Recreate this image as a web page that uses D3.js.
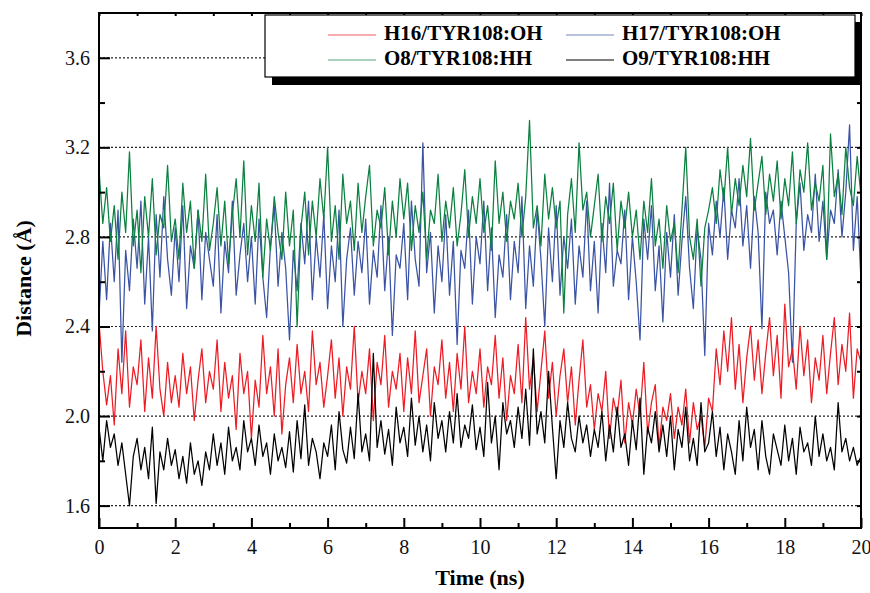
<!DOCTYPE html>
<html>
<head>
<meta charset="utf-8">
<script src="https://cdn.jsdelivr.net/npm/d3@7"></script>
<style>
  html, body { margin: 0; padding: 0; background: #fff; overflow: hidden; }
  svg { display: block; }
  text { font-family: "Liberation Serif", "Times New Roman", serif; }
</style>
</head>
<body>
<div id="viz"></div>
<script>
// sampled every 0.1 ns
const time = d3.range(201).map(i => i / 10);

const h16 = [
  2.42, 2.20, 2.05, 2.18, 1.96, 2.30, 2.10, 2.38, 2.04, 2.22,
  2.14, 2.34, 2.02, 2.26, 2.08, 2.40, 2.12, 2.00, 2.24, 2.06,
  2.18, 2.04, 2.28, 2.10, 2.22, 1.98, 2.16, 2.30, 2.06, 2.20,
  2.12, 2.34, 2.02, 2.24, 2.08, 2.18, 1.94, 2.28, 2.10, 2.20,
  1.90, 2.16, 2.04, 2.36, 2.10, 2.22, 2.00, 2.30, 1.92, 2.14,
  2.26, 2.06, 2.32, 2.10, 2.20, 2.02, 2.38, 2.14, 2.24, 2.04,
  2.18, 2.34, 2.08, 2.26, 2.00, 2.22, 2.12, 2.40, 2.06, 2.20,
  2.10, 2.30, 1.98, 2.24, 2.14, 2.36, 2.04, 2.20, 2.12, 2.28,
  2.02, 2.26, 2.10, 2.38, 2.06, 2.18, 2.30, 2.00, 2.22, 2.14,
  2.34, 2.08, 2.24, 2.02, 2.28, 2.12, 2.40, 2.06, 2.20, 2.10,
  2.30, 2.04, 2.22, 2.14, 2.36, 2.08, 2.26, 1.98, 2.18, 2.10,
  2.32, 2.06, 2.44, 2.12, 2.26, 2.02, 2.20, 2.38, 2.08, 2.24,
  2.00, 2.18, 2.30, 2.06, 2.22, 1.96, 2.16, 2.34, 2.04, 2.14,
  1.94, 2.10, 2.02, 2.20, 1.90, 2.08, 2.00, 2.16, 1.88, 2.06,
  1.96, 2.12, 2.00, 2.24, 1.92, 2.06, 2.14, 1.86, 2.04, 1.98,
  2.10, 1.90, 2.04, 1.96, 2.12, 1.88, 2.06, 1.94, 2.00, 1.86,
  2.08, 2.02, 2.30, 2.14, 2.38, 2.20, 2.44, 2.12, 2.32, 2.06,
  2.26, 2.40, 2.16, 2.34, 2.10, 2.28, 2.44, 2.18, 2.36, 2.08,
  2.50, 2.22, 2.30, 2.12, 2.40, 2.18, 2.34, 2.06, 2.26, 2.16,
  2.36, 2.10, 2.28, 2.44, 2.14, 2.32, 2.20, 2.46, 2.08, 2.30,
  2.24
];

const h17 = [
  2.45, 2.78, 2.52, 2.86, 2.60, 2.92, 2.24, 2.74, 2.56, 2.88,
  2.66, 2.96, 2.50, 2.80, 2.38, 2.90, 2.62, 2.98, 2.70, 2.54,
  2.84, 2.60, 2.94, 2.48, 2.76, 2.66, 2.92, 2.52, 2.82, 2.70,
  2.58, 2.90, 2.46, 2.78, 2.64, 2.96, 2.54, 2.72, 2.86, 2.60,
  2.80, 2.50, 2.88, 2.62, 2.44, 2.76, 2.94, 2.58, 2.82, 2.66,
  2.34, 2.74, 2.56, 2.86, 2.68, 2.96, 2.52, 2.80, 2.62, 2.90,
  2.48, 2.76, 2.60, 2.92, 2.40, 2.70, 2.84, 2.54, 2.78, 2.64,
  2.88, 2.50, 2.74, 2.62, 2.94, 2.56, 2.80, 2.36, 2.72, 2.66,
  2.86, 2.52, 2.96, 2.70, 2.58, 3.22, 2.64, 2.82, 2.46, 2.76,
  2.60, 2.90, 2.54, 2.78, 2.32, 2.74, 2.66, 2.92, 2.50, 2.80,
  2.68, 2.96, 2.56, 2.84, 2.44, 2.72, 2.62, 2.90, 2.52, 2.78,
  2.64, 2.98, 2.48, 2.76, 2.58, 2.92, 2.70, 2.40, 2.84, 2.60,
  2.94, 2.54, 2.80, 2.66, 2.88, 2.50, 2.76, 2.62, 2.96, 2.56,
  2.78, 2.46, 2.86, 2.64, 3.04, 2.58, 2.74, 2.68, 2.92, 2.52,
  2.80, 2.60, 2.34, 2.88, 2.70, 2.94, 2.56, 2.76, 2.42, 2.82,
  2.62, 2.90, 2.54, 2.78, 2.98, 2.66, 2.48, 2.84, 2.70, 2.27,
  2.86, 2.72, 2.96, 2.80, 3.02, 2.70, 2.92, 2.84, 3.06, 2.76,
  2.94, 2.66, 2.98, 2.82, 2.39, 3.00, 2.86, 2.92, 2.72, 2.96,
  2.80, 2.64, 2.24, 2.86, 3.04, 2.74, 2.90, 2.82, 3.08, 2.78,
  2.96, 2.70, 2.92, 2.86, 3.10, 2.80, 3.00, 3.30, 2.74, 2.98,
  2.60
];

const o8 = [
  3.10, 2.86, 3.02, 2.78, 2.94, 2.70, 3.00, 2.82, 3.18, 2.76,
  2.92, 2.64, 2.98, 2.80, 3.06, 2.72, 2.90, 2.84, 3.12, 2.78,
  2.88, 2.70, 3.04, 2.82, 2.96, 2.66, 2.92, 2.78, 3.08, 2.74,
  2.86, 3.02, 2.76, 2.96, 2.68, 2.90, 3.06, 2.80, 3.14, 2.72,
  2.94, 2.78, 3.04, 2.62, 2.88, 2.74, 2.98, 2.82, 2.70, 3.00,
  2.76, 2.92, 2.40, 2.84, 3.00, 2.72, 2.96, 2.80, 3.06, 2.88,
  3.20, 2.78, 2.94, 2.70, 3.08, 2.86, 2.96, 2.74, 3.04, 2.82,
  2.98, 3.12, 2.76, 2.92, 2.84, 3.02, 2.72, 2.96, 2.80, 3.06,
  2.88, 3.04, 2.74, 2.94, 2.82, 3.00, 2.70, 2.92, 2.86, 3.08,
  2.78, 2.96, 2.84, 3.02, 2.76, 2.90, 3.10, 2.80, 2.98, 2.86,
  3.06, 2.82, 2.94, 2.74, 3.14, 2.86, 3.00, 2.78, 2.96, 2.88,
  3.04, 2.80, 2.98, 3.32, 2.84, 2.94, 2.76, 3.08, 2.88, 3.02,
  2.84, 2.96, 2.46, 2.90, 3.06, 2.82, 3.22, 2.92, 3.00, 2.80,
  2.94, 3.08, 2.78, 2.98, 2.86, 3.04, 2.74, 2.96, 2.84, 3.00,
  2.80, 2.92, 2.70, 2.96, 2.82, 3.06, 2.76, 2.88, 2.66, 2.94,
  2.78, 2.86, 2.64, 2.92, 3.20, 2.80, 2.70, 2.88, 2.58, 2.84,
  2.92, 3.02, 2.86, 3.10, 2.96, 3.20, 2.90, 3.06, 2.94, 3.12,
  2.98, 3.24, 2.92, 3.04, 3.16, 2.90, 3.08, 2.96, 3.14, 2.88,
  3.06, 2.94, 3.18, 2.86, 3.10, 3.00, 3.22, 2.92, 3.04, 2.96,
  3.12, 2.70, 3.26, 2.98, 3.08, 2.90, 3.20, 3.02, 2.94, 3.16,
  2.98
];

const o9 = [
  1.95, 1.80, 1.98, 1.86, 1.92, 1.78, 1.88, 1.74, 1.60, 1.82,
  1.90, 1.76, 1.86, 1.72, 1.95, 1.61, 1.84, 1.76, 1.90, 1.78,
  1.85, 1.72, 1.82, 1.70, 1.88, 1.74, 1.80, 1.69, 1.84, 1.76,
  1.92, 1.78, 1.88, 1.74, 1.95, 1.80, 1.86, 1.76, 1.98, 1.84,
  1.90, 1.78, 1.96, 1.82, 1.88, 1.74, 1.92, 1.80, 1.86, 1.77,
  1.93, 1.75, 1.98, 1.81, 2.05, 1.78, 1.90, 1.84, 1.72, 1.88,
  1.82, 1.96, 1.76, 2.02, 1.85, 1.79, 1.95, 1.81, 2.10, 1.84,
  1.92, 1.80, 2.28, 1.86, 1.98, 1.83, 1.94, 1.78, 2.04, 1.88,
  1.95, 1.82, 2.08, 1.87, 2.00, 1.84, 1.96, 1.80, 2.06, 1.90,
  1.98, 1.84, 2.02, 1.88, 2.10, 1.86, 1.96, 1.90, 2.05, 1.85,
  1.95, 1.82, 2.15, 1.88, 2.00, 1.76, 2.06, 1.92, 1.98, 1.86,
  2.04, 1.90, 2.12, 1.87, 2.30, 1.92, 2.02, 1.88, 2.20, 1.95,
  1.72, 1.98, 1.86, 2.06, 1.90, 1.84, 2.00, 1.88, 1.96, 1.82,
  1.94, 1.86, 2.02, 1.80, 1.96, 1.84, 2.04, 1.86, 1.92, 1.78,
  1.98, 1.85, 2.08, 1.74, 1.95, 1.88, 2.02, 1.84, 1.96, 1.82,
  2.00, 1.76, 1.94, 1.86, 2.04, 1.80, 1.90, 1.78, 2.06, 1.84,
  1.88, 2.02, 1.82, 1.95, 1.76, 1.92, 1.84, 1.74, 1.98, 1.80,
  2.04, 1.86, 1.94, 1.76, 1.98, 1.82, 1.74, 1.92, 1.85, 1.78,
  1.96, 1.80, 1.90, 1.74, 1.95, 1.84, 1.88, 1.78, 2.00, 1.82,
  1.92, 1.80, 1.86, 1.76, 2.06, 1.84, 1.90, 1.80, 1.86, 1.78,
  1.82
];

const seriesNames = ["H16/TYR108:OH", "H17/TYR108:OH", "O8/TYR108:HH", "O9/TYR108:HH"];
const seriesValues = [h16, h17, o8, o9];
const seriesColors = ["#ed1c24", "#3a53a4", "#0b8040", "#000000"];
const drawOrder = [1, 2, 0, 3];

const xTicks = [0, 2, 4, 6, 8, 10, 12, 14, 16, 18, 20];
const yTicks = [1.6, 2.0, 2.4, 2.8, 3.2, 3.6];

const width = 870;
const height = 593;
const margin = {top: 13, right: 9, left: 99, bottom: 65};
const innerWidth = width - margin.left - margin.right;
const innerHeight = height - margin.top - margin.bottom;

const svg = d3.select("#viz")
    .append("svg")
    .attr("width", width)
    .attr("height", height);

const xScale = d3.scaleLinear().domain([0, 20]).range([0, innerWidth]);
const yScale = d3.scaleLinear().domain([1.5, 3.8]).range([innerHeight, 0]);

const g = svg.append("g")
    .attr("transform", `translate(${margin.left}, ${margin.top})`);

// dotted grid at the labelled y values
g.selectAll(".grid").data(yTicks)
  .enter().append("line")
    .attr("x1", 0).attr("x2", innerWidth)
    .attr("y1", d => yScale(d)).attr("y2", d => yScale(d))
    .attr("stroke", "#222").attr("stroke-width", 1.2)
    .attr("stroke-dasharray", "2,2");

// series
const line = d3.line()
    .x((d, i) => xScale(time[i]))
    .y(d => yScale(d));

drawOrder.forEach(k => {
    g.append("path")
        .datum(seriesValues[k])
        .attr("fill", "none")
        .attr("stroke", seriesColors[k])
        .attr("stroke-width", 1.25)
        .attr("stroke-linejoin", "round")
        .attr("d", line);
});

// axes, ticks pointing inwards; unlabelled ticks lose their text nodes
const styleAxis = sel => {
    sel.select(".domain").remove();
    sel.selectAll(".tick line").attr("stroke", "#000").attr("stroke-width", 2);
    sel.selectAll(".tick text").filter(function() { return this.textContent === ""; }).remove();
    sel.selectAll(".tick text").attr("font-size", 20).attr("fill", "#111");
};

g.append("g")
    .attr("transform", `translate(0, ${innerHeight})`)
    .call(d3.axisBottom(xScale).tickValues(d3.range(1, 20, 2)).tickSize(-5).tickFormat(""))
    .call(styleAxis);
g.append("g")
    .attr("transform", `translate(0, ${innerHeight})`)
    .call(d3.axisBottom(xScale).tickValues(xTicks).tickSize(-10).tickPadding(12).tickFormat(d3.format("d")))
    .call(styleAxis);

g.append("g")
    .call(d3.axisLeft(yScale).tickValues([1.8, 2.2, 2.6, 3.0, 3.4]).tickSize(-6).tickFormat(""))
    .call(styleAxis);
g.append("g")
    .call(d3.axisLeft(yScale).tickValues(yTicks).tickSize(-11).tickPadding(9).tickFormat(d3.format(".1f")))
    .call(styleAxis);

g.append("g")
    .call(d3.axisTop(xScale).tickValues(d3.range(0, 21)).tickSize(-3).tickFormat(""))
    .call(styleAxis);
g.append("g")
    .attr("transform", `translate(${innerWidth}, 0)`)
    .call(d3.axisRight(yScale).tickValues(d3.range(1.6, 3.7, 0.2)).tickSize(-4).tickFormat(""))
    .call(styleAxis);

// frame
g.append("rect")
    .attr("width", innerWidth).attr("height", innerHeight)
    .attr("fill", "none").attr("stroke", "#000").attr("stroke-width", 2);

// axis titles
svg.append("text")
    .attr("x", margin.left + innerWidth / 2)
    .attr("y", 585)
    .attr("text-anchor", "middle")
    .attr("font-size", 22).attr("font-weight", "bold")
    .text("Time (ns)");

svg.append("text")
    .attr("transform", `translate(31, ${margin.top + innerHeight / 2 + 8}) rotate(-90)`)
    .attr("text-anchor", "middle")
    .attr("font-size", 22).attr("font-weight", "bold")
    .text("Distance (Å)");

// legend with drop shadow
const legend = svg.append("g").attr("transform", "translate(265, 15)");
legend.append("rect")
    .attr("x", 7).attr("y", 7).attr("width", 590).attr("height", 63)
    .attr("fill", "#000");
legend.append("rect")
    .attr("width", 590).attr("height", 62)
    .attr("fill", "#fff").attr("stroke", "#000").attr("stroke-width", 1.2);

const legendPos = [[63, 20], [301, 20], [63, 45], [301, 45]];
seriesNames.forEach((name, k) => {
    const [lx, ly] = legendPos[k];
    legend.append("line")
        .attr("x1", lx).attr("x2", lx + 48)
        .attr("y1", ly).attr("y2", ly)
        .attr("stroke", seriesColors[k]).attr("stroke-width", 1.2)
        .attr("opacity", k === 3 ? 1 : 0.7);
    legend.append("text")
        .attr("x", lx + 56).attr("y", ly + 5)
        .attr("font-size", 21).attr("font-weight", "bold")
        .text(name);
});
</script>
</body>
</html>
